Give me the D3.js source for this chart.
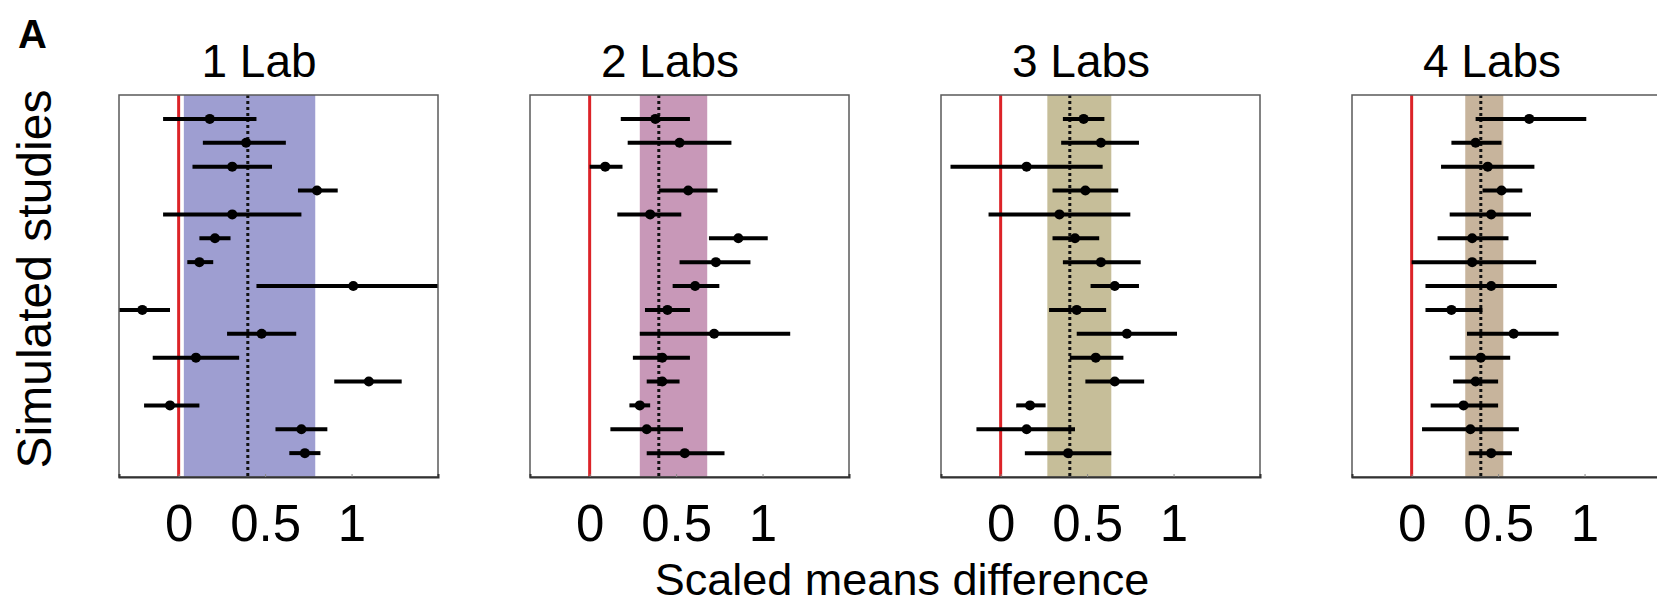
<!DOCTYPE html>
<html>
<head>
<meta charset="utf-8">
<script src="https://cdn.jsdelivr.net/npm/d3@7"></script>
<style>
  body { margin: 0; background: #fff; }
  svg { display: block; font-family: "Liberation Sans", Arial, sans-serif; }
</style>
</head>
<body>
<div id="chart"></div>
<script>
// Panel titles and shading colours
const panelTitles = ['1 Lab', '2 Labs', '3 Labs', '4 Labs'];
const shadeColors = ['#9e9ed1', '#c898b8', '#c6be99', '#c7b49c'];

// Pooled estimate (dotted line) and its interval (shaded band) per panel
const pooled = [0.40, 0.40, 0.40, 0.40];
const bandLow = [0.03, 0.29, 0.27, 0.31];
const bandHigh = [0.79, 0.68, 0.64, 0.53];

// Simulated studies, top to bottom: estimate, lower and upper bound
const est1 = [0.18, 0.39, 0.31, 0.80, 0.31, 0.21, 0.12, 1.01, -0.21, 0.48, 0.10, 1.10, -0.05, 0.71, 0.73];
const low1 = [-0.09, 0.14, 0.08, 0.69, -0.09, 0.12, 0.05, 0.45, -0.38, 0.28, -0.15, 0.90, -0.20, 0.56, 0.64];
const high1 = [0.45, 0.62, 0.54, 0.92, 0.71, 0.30, 0.20, 1.58, -0.05, 0.68, 0.35, 1.29, 0.12, 0.86, 0.82];

const est2 = [0.38, 0.52, 0.09, 0.57, 0.35, 0.86, 0.73, 0.61, 0.45, 0.72, 0.42, 0.42, 0.29, 0.33, 0.55];
const low2 = [0.18, 0.22, 0.00, 0.40, 0.16, 0.69, 0.52, 0.48, 0.32, 0.29, 0.25, 0.33, 0.23, 0.12, 0.33];
const high2 = [0.58, 0.82, 0.19, 0.74, 0.53, 1.03, 0.93, 0.75, 0.58, 1.16, 0.58, 0.52, 0.35, 0.54, 0.78];

const est3 = [0.48, 0.58, 0.15, 0.49, 0.34, 0.43, 0.58, 0.66, 0.44, 0.73, 0.55, 0.66, 0.17, 0.15, 0.39];
const low3 = [0.36, 0.35, -0.29, 0.30, -0.07, 0.30, 0.36, 0.52, 0.28, 0.44, 0.40, 0.49, 0.09, -0.14, 0.14];
const high3 = [0.60, 0.80, 0.59, 0.68, 0.75, 0.57, 0.81, 0.80, 0.61, 1.02, 0.71, 0.83, 0.26, 0.43, 0.64];

const est4 = [0.68, 0.37, 0.44, 0.52, 0.46, 0.35, 0.35, 0.46, 0.23, 0.59, 0.40, 0.37, 0.30, 0.34, 0.46];
const low4 = [0.37, 0.23, 0.17, 0.41, 0.22, 0.15, 0.00, 0.08, 0.08, 0.32, 0.22, 0.24, 0.11, 0.06, 0.33];
const high4 = [1.01, 0.52, 0.71, 0.64, 0.69, 0.56, 0.72, 0.84, 0.41, 0.85, 0.57, 0.50, 0.50, 0.62, 0.58];

const estimates = [est1, est2, est3, est4];
const lows = [low1, low2, low3, low4];
const highs = [high1, high2, high3, high4];
const tickValues = [0, 0.5, 1];

// Layout
const width = 1657, height = 605;
const boxLeft = 119, boxStep = 411, boxWidth = 319;
const boxTop = 95, boxBottom = 477;
const font = '"Liberation Sans", Arial, sans-serif';

const svg = d3.select('#chart')
  .append('svg')
  .attr('width', width)
  .attr('height', height);

// Shared scales
const x = d3.scaleLinear().domain([-0.345, 1.5]).range([0, boxWidth]);
const y = d3.scaleLinear().domain([0, 16]).range([0, boxBottom - boxTop]);

panelTitles.forEach((title, i) => {
  const g = svg.append('g')
    .attr('transform', `translate(${boxLeft + i * boxStep}, ${boxTop})`);

  g.append('clipPath')
    .attr('id', `clip${i}`)
    .append('rect')
    .attr('width', boxWidth)
    .attr('height', boxBottom - boxTop);

  const plot = g.append('g').attr('clip-path', `url(#clip${i})`);

  // Shaded interval of the pooled estimate
  plot.append('rect')
    .attr('x', x(bandLow[i]))
    .attr('width', x(bandHigh[i]) - x(bandLow[i]))
    .attr('y', 0)
    .attr('height', boxBottom - boxTop)
    .attr('fill', shadeColors[i]);

  // Zero line
  plot.append('line')
    .attr('x1', x(0)).attr('x2', x(0))
    .attr('y1', 0).attr('y2', boxBottom - boxTop)
    .attr('stroke', '#dc2328')
    .attr('stroke-width', 3);

  // Pooled estimate, dotted
  plot.append('line')
    .attr('x1', x(pooled[i])).attr('x2', x(pooled[i]))
    .attr('y1', 0).attr('y2', boxBottom - boxTop)
    .attr('stroke', '#111')
    .attr('stroke-width', 3)
    .attr('stroke-dasharray', '3,3');

  const rows = estimates[i].map((e, k) => ({ est: e, lo: lows[i][k], hi: highs[i][k], row: k + 1 }));

  // Interval bars
  plot.selectAll('.bar')
    .data(rows)
    .enter().append('line')
    .attr('class', 'bar')
    .attr('x1', d => x(d.lo))
    .attr('x2', d => x(d.hi))
    .attr('y1', d => y(d.row))
    .attr('y2', d => y(d.row))
    .attr('stroke', '#000')
    .attr('stroke-width', 4);

  plot.selectAll('.pt')
    .data(rows)
    .enter().append('circle')
    .attr('class', 'pt')
    .attr('cx', d => x(d.est))
    .attr('cy', d => y(d.row))
    .attr('r', 5)
    .attr('fill', '#000');

  // Box
  g.append('rect')
    .attr('width', boxWidth)
    .attr('height', boxBottom - boxTop)
    .attr('fill', 'none')
    .attr('stroke', '#5a5a5a')
    .attr('stroke-width', 1.5);

  // X axis
  const axis = g.append('g')
    .attr('transform', `translate(0, ${boxBottom - boxTop})`)
    .call(d3.axisBottom(x).tickValues(tickValues).tickFormat(d3.format('')).tickSize(-3).tickPadding(28));
  axis.select('.domain')
    .attr('stroke', '#333')
    .attr('stroke-width', 2);
  axis.selectAll('.tick line').attr('stroke', '#888');
  axis.selectAll('text')
    .attr('fill', '#000')
    .style('font-size', '51px')
    .style('font-family', font);

  // Panel title
  svg.append('text')
    .attr('x', boxLeft + i * boxStep + 140)
    .attr('y', 77)
    .attr('text-anchor', 'middle')
    .style('font-size', '46px')
    .text(title);
});

// Panel letter
svg.append('text')
  .attr('x', 18)
  .attr('y', 48)
  .style('font-size', '40px')
  .style('font-weight', 'bold')
  .text('A');

// Axis titles
svg.append('text')
  .attr('transform', 'translate(51, 279) rotate(-90)')
  .attr('text-anchor', 'middle')
  .style('font-size', '48px')
  .text('Simulated studies');

svg.append('text')
  .attr('x', 902)
  .attr('y', 595)
  .attr('text-anchor', 'middle')
  .style('font-size', '45px')
  .text('Scaled means difference');
</script>
</body>
</html>
